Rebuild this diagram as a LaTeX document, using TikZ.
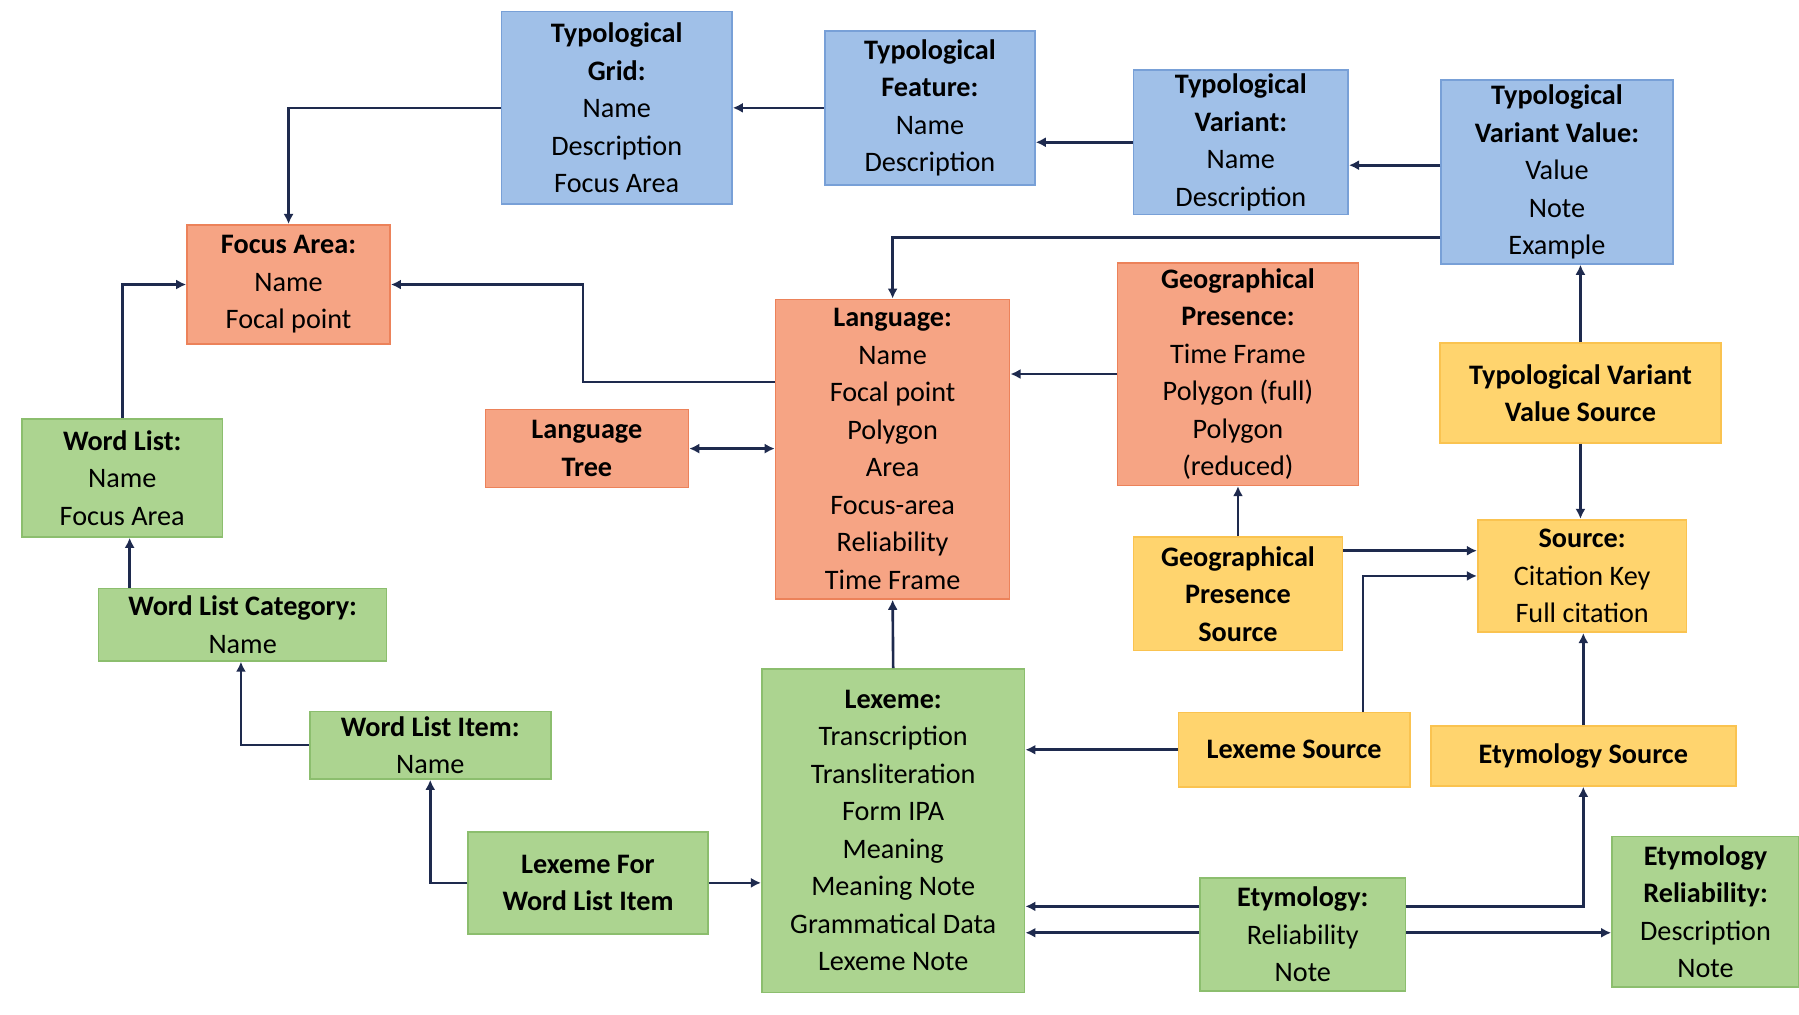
\documentclass[tikz,border=0pt]{standalone}
\usepackage{fontspec}
\setmainfont{Carlito}
\usetikzlibrary{arrows.meta}
\definecolor{boxblue}{RGB}{160,192,232}
\definecolor{lineblue}{RGB}{120,160,215}
\definecolor{boxorange}{RGB}{246,164,132}
\definecolor{lineorange}{RGB}{236,130,90}
\definecolor{boxgreen}{RGB}{172,212,144}
\definecolor{linegreen}{RGB}{140,190,110}
\definecolor{boxyellow}{RGB}{255,212,110}
\definecolor{lineyellow}{RGB}{250,195,80}
\definecolor{linknavy}{RGB}{30,42,78}
\tikzset{
  entity/.style={
    rectangle,
    line width=0.8pt,
    align=center,
    inner sep=1pt,
    font=\fontsize{14}{18.6}\selectfont
  },
  size/.style 2 args={minimum width=#1*0.02cm, minimum height=#2*0.02cm},
  entity-blue/.style={entity, fill=boxblue, draw=lineblue},
  entity-orange/.style={entity, fill=boxorange, draw=lineorange},
  entity-green/.style={entity, fill=boxgreen, draw=linegreen},
  entity-yellow/.style={entity, fill=boxyellow, draw=lineyellow},
  link/.style={draw=linknavy, line width=1.3pt, -{Latex[length=5pt,width=5pt]}},
  link-both/.style={link, {Latex[length=5pt,width=5pt]}-{Latex[length=5pt,width=5pt]}}
}

\begin{document}
\begin{tikzpicture}[x=0.02cm, y=-0.02cm]
  \useasboundingbox (0,0) rectangle (1568,884);

  % --- Typology (blue) ---
  \node[entity-blue, size={201}{168}] (grid) at (537.5,94) {\textbf{Typological}\\\textbf{Grid:}\\Name\\Description\\Focus Area};
  \node[entity-blue, size={183}{134}] (feature) at (810.5,94) {\textbf{Typological}\\\textbf{Feature:}\\Name\\Description};
  \node[entity-blue, size={187}{126}] (variant) at (1081.5,124) {\textbf{Typological}\\\textbf{Variant:}\\Name\\Description};
  \node[entity-blue, size={202}{160}] (value) at (1357,150) {\textbf{Typological}\\\textbf{Variant Value:}\\Value\\Note\\Example};

  % --- Language side (orange) ---
  \node[entity-orange, size={177}{104}] (focus) at (251.5,248) {\textbf{Focus Area:}\\Name\\Focal point};
  \node[entity-orange, size={204}{261}] (lang) at (778,391.5) {\textbf{Language:}\\Name\\Focal point\\Polygon\\Area\\Focus-area\\Reliability\\Time Frame};
  \node[entity-orange, size={210}{194}] (geo) at (1079,326) {\textbf{Geographical}\\\textbf{Presence:}\\Time Frame\\Polygon (full)\\Polygon\\(reduced)};
  \node[entity-orange, size={177}{68}] (tree) at (511.5,391) {\textbf{Language}\\\textbf{Tree}};

  % --- Word lists and lexemes (green) ---
  \node[entity-green, size={175}{103}] (wlist) at (106.5,416.5) {\textbf{Word List:}\\Name\\Focus Area};
  \node[entity-green, size={251}{63}] (wcat) at (211.5,544.5) {\textbf{Word List Category:}\\Name};
  \node[entity-green, size={210}{59}] (witem) at (375,649.5) {\textbf{Word List Item:}\\Name};
  \node[entity-green, size={209}{89}] (lexitem) at (512.5,769.5) {\textbf{Lexeme For}\\\textbf{Word List Item}};
  \node[entity-green, size={229}{282}] (lexeme) at (778.5,724) {\textbf{Lexeme:}\\Transcription\\Transliteration\\Form IPA\\Meaning\\Meaning Note\\Grammatical Data\\Lexeme Note};
  \node[entity-green, size={179}{99}] (etym) at (1135.5,814.5) {\textbf{Etymology:}\\Reliability\\Note};
  \node[entity-green, size={163}{131}] (etrel) at (1486.5,794.5) {\textbf{Etymology}\\\textbf{Reliability:}\\Description\\Note};

  % --- Sources (yellow) ---
  \node[entity-yellow, size={245}{87}] (valsrc) at (1377.5,342.5) {\textbf{Typological Variant}\\\textbf{Value Source}};
  \node[entity-yellow, size={182}{98}] (source) at (1379,502) {\textbf{Source:}\\Citation Key\\Full citation};
  \node[entity-yellow, size={182}{99}] (geosrc) at (1079,517.5) {\textbf{Geographical}\\\textbf{Presence}\\\textbf{Source}};
  \node[entity-yellow, size={202}{65}] (lexsrc) at (1128,653.5) {\textbf{Lexeme Source}};
  \node[entity-yellow, size={266}{52}] (etsrc) at (1380,659) {\textbf{Etymology Source}};

  % --- Links ---
  \draw[link] (feature.west) -- (feature.west -| grid.east);
  \draw[link] (variant.west) -- (variant.west -| feature.east);
  \draw[link] (value.west |- 0,144) -- (variant.east |- 0,144);
  \draw[link] (grid.west) -| (focus.north);
  \draw[link] (value.west |- 0,207) -| (lang.north);
  \draw[link] (lang.west |- 0,333) -- (508,333) |- (focus.east);
  \draw[link] (geo.west) -- (geo.west -| lang.east);
  \draw[link-both] (tree.east) -- (tree.east -| lang.west);
  \draw[link] (wlist.north) |- (focus.west);
  \draw[link] (wcat.north -| 113,0) -- (wlist.south -| 113,0);
  \draw[link] (witem.west) -| (wcat.south -| 210,0);
  \draw[link] (lexitem.west) -| (witem.south);
  \draw[link] (lexitem.east) -- (lexitem.east -| lexeme.west);
  \draw[link] (lexeme.north) -- (lang.south);
  \draw[link] (valsrc.north) -- (valsrc.north |- value.south);
  \draw[link] (valsrc.south) -- (valsrc.south |- source.north);
  \draw[link] (geosrc.north) -- (geosrc.north |- geo.south);
  \draw[link] (geosrc.east |- 0,480) -- (source.west |- 0,480);
  \draw[link] (lexsrc.north -| 1188,0) |- (source.west |- 0,502);
  \draw[link] (lexsrc.west) -- (lexsrc.west -| lexeme.east);
  \draw[link] (etsrc.north) -- (etsrc.north |- source.south);
  \draw[link] (etym.west |- 0,790) -- (lexeme.east |- 0,790);
  \draw[link] (etym.west |- 0,813) -- (lexeme.east |- 0,813);
  \draw[link] (etym.east |- 0,790) -| (etsrc.south);
  \draw[link] (etym.east |- 0,813) -- (etrel.west |- 0,813);
\end{tikzpicture}
\end{document}
